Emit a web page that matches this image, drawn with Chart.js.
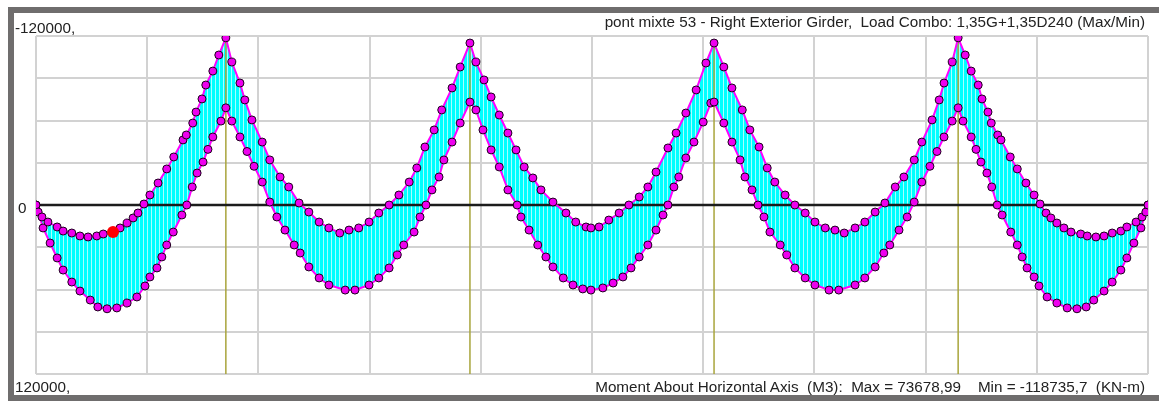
<!DOCTYPE html>
<html>
<head>
<meta charset="utf-8">
<script src="https://cdn.jsdelivr.net/npm/chart.js@4"></script>
<style>
  html, body { margin: 0; padding: 0; background: #fff; }
  #wrap { position: relative; width: 1159px; height: 401px; overflow: hidden; }
  #frame { position: absolute; left: 8px; top: 7px; width: 1145px; height: 382px; border: 6px solid #6f6d6d; box-sizing: content-box; }
  canvas { position: absolute; left: 0; top: 0; }
  .lbl { position: absolute; font-family: "Liberation Sans", Arial, sans-serif; font-size: 15.25px; color: #222; white-space: pre; line-height: 17px; }
</style>
</head>
<body>
<div id="wrap">
  <div id="frame"></div>
  <canvas id="momentChart" width="1159" height="401"></canvas>
  <div class="lbl" style="left:15px; top:19px;">-120000,</div>
  <div class="lbl" style="left:18px; top:199px;">0</div>
  <div class="lbl" style="left:15px; top:378px;">120000,</div>
  <div class="lbl" style="right:14px; top:13px;">pont mixte 53 - Right Exterior Girder,  Load Combo: 1,35G+1,35D240 (Max/Min)</div>
  <div class="lbl" style="right:14px; top:378px;">Moment About Horizontal Axis  (M3):  Max = 73678,99    Min = -118735,7  (KN-m)</div>
</div>
<script>
// stations along the girder (m) and moments (kN-m)
// spans 35 / 45 / 45 / 45 / 35 m, supports at 35, 80, 125, 170
const minStations = [
  0, 0.4, 1.1, 2.2, 3.9, 5.0, 6.6, 8.1, 9.6, 11.2, 12.4, 14.2, 15.5, 16.8, 17.9, 18.8, 19.9, 21.0, 22.5, 24.1, 25.4, 27.1, 27.7, 28.9, 29.5, 30.6, 31.3, 32.6, 33.7, 35,
  36.1, 37.6, 38.5, 39.8, 41.7, 43.1, 45.0, 46.6, 48.5, 50.3, 52.2, 54.0, 56.0, 57.7, 59.5, 61.4, 63.2, 65.1, 66.9, 68.8, 70.2, 71.7, 73.4, 74.8, 76.7, 78.2, 80,
  81.1, 82.6, 83.9, 85.4, 87.0, 88.5, 90.0, 91.6, 93.1, 95.3, 97.7, 99.5, 101.4, 102.3, 103.8, 105.6, 107.5, 109.3, 111.2, 112.8, 114.3, 116.5, 118.0, 119.8, 121.7, 123.5, 125,
  126.8, 128.3, 130.2, 131.6, 133.3, 134.8, 136.2, 138.1, 139.9, 141.8, 143.6, 145.5, 147.3, 149.0, 151.0, 152.8, 154.7, 156.5, 158.4, 160.0, 161.9, 163.3, 165.2, 166.5, 167.4, 168.9, 170,
  171.3, 172.4, 173.7, 174.4, 175.5, 176.1, 177.3, 177.9, 179.6, 180.9, 182.5, 184.0, 185.1, 186.2, 187.1, 188.2, 189.5, 190.8, 192.6, 193.8, 195.4, 196.9, 198.4, 200.0, 201.1, 202.8, 203.9, 204.6, 205
];
const minMoments = [
  0, 5000, 8500, 12100, 15600, 18500, 19900, 22000, 22700, 22000, 20600, 19200, 16300, 12800, 9200, 5700, -700, -7100, -15600, -25600, -34100, -46200, -49700, -58200, -66000, -75300, -85200, -95100, -106500, -118700,
  -101500, -86600, -74600, -60400, -44700, -32000, -19900, -12800, -1400, 5000, 12100, 16300, 19900, 17800, 16300, 12100, 5700, 0, -7100, -16300, -26300, -41200, -53300, -67500, -83100, -98000, -115000,
  -101500, -88800, -76700, -63900, -51100, -39100, -27000, -19200, -10700, -2100, 5700, 12100, 15600, 16300, 15600, 10700, 5700, 0, -5700, -12800, -23400, -40500, -51100, -65300, -81700, -100800, -115000,
  -98000, -83100, -67500, -53300, -41200, -26300, -16300, -7100, 0, 5700, 12100, 16300, 17800, 19900, 16300, 12100, 5000, -1400, -12800, -19900, -32000, -44700, -60400, -74600, -86600, -101500, -118700,
  -106500, -95100, -85200, -75300, -66000, -58200, -49700, -46200, -34100, -25600, -15600, -7100, -700, 5700, 9200, 12800, 16300, 19200, 20600, 22000, 22700, 22000, 19900, 18500, 15600, 12100, 8500, 5000, 0
];
const maxStations = [
  0, 1.3, 2.6, 3.9, 5.0, 6.6, 8.1, 10.0, 11.4, 13.1, 14.9, 16.8, 18.6, 20.1, 21.0, 22.3, 23.2, 24.1, 25.3, 26.9, 27.8, 28.8, 29.7, 30.8, 31.7, 32.6, 34.1, 35,
  36.1, 37.6, 38.9, 40.2, 41.7, 43.1, 44.4, 45.9, 47.6, 48.7, 50.3, 52.2, 54.0, 57.0, 58.8, 61.4, 63.2, 65.1, 66.6, 67.8, 69.7, 70.8, 71.9, 73.0, 74.3, 75.2, 76.7, 78.2, 80,
  81.1, 82.4, 83.9, 85.4, 87.0, 88.7, 89.4, 90.9, 92.5, 94.0, 95.3, 97.2, 99.0, 100.8, 102.3, 104.5, 106.4, 108.2, 109.7, 111.2, 112.8, 114.3, 115.6, 116.5, 117.6, 118.5, 119.8, 121.3, 123.0, 124.4, 125,
  126.8, 128.3, 129.8, 130.7, 132.0, 133.1, 134.2, 135.3, 137.2, 138.4, 139.9, 141.8, 143.6, 146.2, 148.0, 151.0, 152.8, 154.7, 156.3, 157.4, 159.1, 160.6, 161.9, 163.3, 164.8, 166.1, 167.4, 168.9, 170,
  170.9, 172.4, 173.3, 174.2, 175.3, 176.2, 177.2, 178.1, 179.7, 180.9, 181.8, 182.7, 184.0, 184.9, 186.4, 188.2, 190.1, 191.9, 193.6, 195.0, 196.9, 198.4, 200.0, 201.1, 202.4, 203.7, 205
];
const maxMoments = [
  0, 16300, 27000, 37600, 46200, 54700, 61100, 67500, 72400, 73700, 73100, 69600, 65300, 57500, 51100, 44700, 36900, 28400, 19200, 7100, 0, -12800, -22700, -30500, -39500, -48300, -59600, -69000,
  -59600, -48300, -38000, -27500, -16300, -2100, 8500, 17800, 28400, 34100, 44000, 51800, 56800, 60400, 60400, 56800, 51800, 44700, 35500, 28400, 19200, 8500, 0, -10700, -19900, -32000, -44700, -58200, -73100,
  -67500, -53300, -39100, -27000, -10700, 0, 8500, 17800, 28400, 36900, 44000, 51800, 56800, 59600, 60400, 58900, 55400, 51100, 44700, 36900, 28400, 17800, 7100, 0, -12800, -19900, -33400, -44700, -58900, -72400, -73100,
  -58200, -44700, -32000, -19900, -10700, 0, 8500, 19200, 28400, 35500, 44700, 51800, 56800, 60400, 60400, 56800, 51800, 44000, 34100, 28400, 17800, 8500, -2100, -16300, -27500, -38000, -48300, -59600, -69000,
  -59600, -48300, -39500, -30500, -22700, -12800, 0, 7100, 19200, 28400, 36900, 44700, 51100, 57500, 65300, 69600, 73100, 73700, 72400, 67500, 61100, 54700, 46200, 37600, 27000, 16300, 0
];
const supportStations = [35, 80, 125, 170];
const supportTops = [-118700, -115000, -115000, -118700];
const pickedPoint = { x: 14.2, y: 19200 };

const girderLength = 205;
const yLimit = 120000;

function toPoints(xs, ys) {
  return xs.map((x, i) => ({ x: x, y: ys[i] }));
}

// cyan fill with thin light vertical streaks
function hatchPattern() {
  const c = document.createElement('canvas');
  c.width = 4;
  c.height = 4;
  const g = c.getContext('2d');
  g.fillStyle = '#00ffff';
  g.fillRect(0, 0, 4, 4);
  g.fillStyle = '#a8ffff';
  g.fillRect(3, 0, 1, 4);
  const ctx = document.getElementById('momentChart').getContext('2d');
  return ctx.createPattern(c, 'repeat');
}

const curveStyle = {
  showLine: true,
  borderColor: '#ff00ff',
  borderWidth: 2,
  pointRadius: 4,
  pointBorderWidth: 1,
  pointBorderColor: '#1a001a',
  pointBackgroundColor: '#ee00ee',
  tension: 0,
};

const datasets = [
  {
    label: 'picked',
    data: [pickedPoint],
    pointRadius: 6,
    pointBackgroundColor: '#ff0000',
    pointBorderColor: '#ff0000',
    pointBorderWidth: 0,
    showLine: false,
  },
  Object.assign({ label: 'Min', data: toPoints(minStations, minMoments), fill: '+1', backgroundColor: hatchPattern() }, curveStyle),
  Object.assign({ label: 'Max', data: toPoints(maxStations, maxMoments), fill: false }, curveStyle),
  {
    label: 'zero',
    data: [{ x: 0, y: 0 }, { x: girderLength, y: 0 }],
    showLine: true,
    borderColor: '#1c1c1c',
    borderWidth: 2.5,
    pointRadius: 0,
  },
];
supportStations.forEach((s, i) => {
  datasets.push({
    label: 'support ' + (i + 1),
    data: [{ x: s, y: supportTops[i] }, { x: s, y: yLimit }],
    showLine: true,
    borderColor: '#a9a53c',
    borderWidth: 1.5,
    pointRadius: 0,
  });
});

new Chart(document.getElementById('momentChart'), {
  type: 'scatter',
  data: { datasets: datasets },
  options: {
    responsive: false,
    animation: false,
    devicePixelRatio: 1,
    layout: { padding: { left: 36, top: 36, right: 11, bottom: 27 } },
    plugins: {
      legend: { display: false },
      tooltip: { enabled: false },
      filler: { drawTime: 'beforeDatasetsDraw' },
    },
    scales: {
      x: {
        type: 'linear',
        min: 0,
        max: girderLength,
        ticks: { display: false, stepSize: girderLength / 10 },
        grid: { color: '#d2d2d2', lineWidth: 2, drawTicks: false },
        border: { display: false },
      },
      y: {
        type: 'linear',
        reverse: true,
        min: -yLimit,
        max: yLimit,
        ticks: { display: false, stepSize: 30000 },
        grid: { color: '#d2d2d2', lineWidth: 2, drawTicks: false },
        border: { display: false },
      },
    },
  },
});
</script>
</body>
</html>
